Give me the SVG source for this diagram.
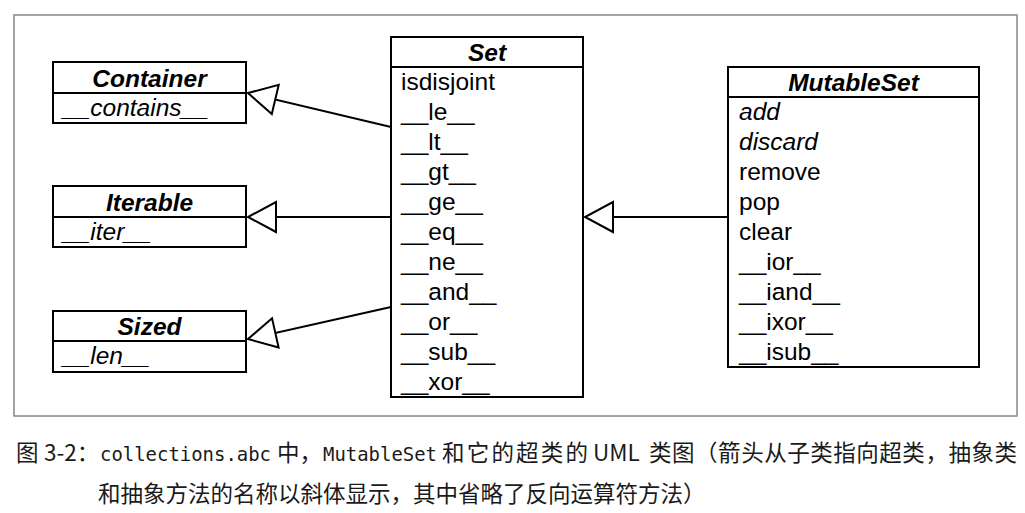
<svg xmlns="http://www.w3.org/2000/svg" width="1025" height="513" viewBox="0 0 1025 513">
<style>
.box{fill:#fff;stroke:#000;stroke-width:2}
.div{stroke:#000;stroke-width:2}
.t{font-family:"Liberation Sans",Arial,sans-serif;font-weight:bold;font-style:italic;font-size:24.5px;text-anchor:middle;fill:#000}
.m{font-family:"Liberation Sans",Arial,sans-serif;font-size:24.5px;fill:#000}
.i{font-style:italic}
.edge{stroke:#000;stroke-width:2;fill:none;marker-end:url(#tri)}
.cap{font-family:"Noto Sans CJK SC","Noto Sans",sans-serif;font-size:22.5px;fill:#1a1a1a}
.mono{font-family:"DejaVu Sans Mono","Liberation Mono",monospace;font-size:20px;fill:#1a1a1a}
</style>
<defs>
<marker id="tri" markerUnits="userSpaceOnUse" markerWidth="30" markerHeight="32" refX="28" refY="15" orient="auto" overflow="visible">
<path d="M0,0 L28,15 L0,30 Z" fill="#fff" stroke="#000" stroke-width="2"/>
</marker>
</defs>
<rect x="14" y="15" width="1003" height="401" fill="#fff" stroke="#888" stroke-width="1.5"/>
<g id="connectors">
<path class="edge" d="M391,127 L248,93"/>
<path class="edge" d="M391,217 L248,217"/>
<path class="edge" d="M391,307 L248,339"/>
<path class="edge" d="M728,217 L585,217"/>
</g>
<g id="Container">
<rect class="box" x="53" y="62" width="193" height="61"/>
<line class="div" x1="53" y1="93" x2="246" y2="93"/>
<text class="t" x="149.5" y="87">Container</text>
<text class="m i" x="63" y="116">__contains__</text>
</g>
<g id="Iterable">
<rect class="box" x="53" y="186" width="193" height="61"/>
<line class="div" x1="53" y1="217" x2="246" y2="217"/>
<text class="t" x="149.5" y="211">Iterable</text>
<text class="m i" x="63" y="240">__iter__</text>
</g>
<g id="Sized">
<rect class="box" x="53" y="311" width="193" height="61"/>
<line class="div" x1="53" y1="341" x2="246" y2="341"/>
<text class="t" x="149.5" y="335">Sized</text>
<text class="m i" x="63" y="364">__len__</text>
</g>
<g id="Set">
<rect class="box" x="391" y="37" width="192" height="360"/>
<line class="div" x1="391" y1="67" x2="583" y2="67"/>
<text class="t" x="487" y="61">Set</text>
<text class="m" x="401" y="90">isdisjoint</text>
<text class="m" x="401" y="120">__le__</text>
<text class="m" x="401" y="150">__lt__</text>
<text class="m" x="401" y="180">__gt__</text>
<text class="m" x="401" y="210">__ge__</text>
<text class="m" x="401" y="240">__eq__</text>
<text class="m" x="401" y="270">__ne__</text>
<text class="m" x="401" y="300">__and__</text>
<text class="m" x="401" y="330">__or__</text>
<text class="m" x="401" y="360">__sub__</text>
<text class="m" x="401" y="389.5">__xor__</text>
</g>
<g id="MutableSet">
<rect class="box" x="728" y="67" width="251" height="300"/>
<line class="div" x1="728" y1="97" x2="979" y2="97"/>
<text class="t" x="853.5" y="91">MutableSet</text>
<text class="m i" x="739" y="120">add</text>
<text class="m i" x="739" y="150">discard</text>
<text class="m" x="739" y="180">remove</text>
<text class="m" x="739" y="210">pop</text>
<text class="m" x="739" y="240">clear</text>
<text class="m" x="739" y="270">__ior__</text>
<text class="m" x="739" y="300">__iand__</text>
<text class="m" x="739" y="330">__ixor__</text>
<text class="m" x="739" y="359.5">__isub__</text>
</g>
<g id="caption">
<text class="cap" x="16" y="461">图</text>
<text class="cap" x="44" y="461">3-2：</text>
<text class="mono" x="100" y="461" textLength="171" lengthAdjust="spacingAndGlyphs">collections.abc</text>
<text class="cap" x="277" y="461">中，</text>
<text class="mono" x="323" y="461" textLength="114" lengthAdjust="spacingAndGlyphs">MutableSet</text>
<text class="cap" x="442" y="461" textLength="146" lengthAdjust="spacing">和它的超类的</text>
<text class="cap" x="593" y="461">UML</text>
<text class="cap" x="649" y="461" textLength="368" lengthAdjust="spacing">类图（箭头从子类指向超类，抽象类</text>
<text class="cap" x="98" y="502">和抽象方法的名称以斜体显示，其中省略了反向运算符方法）</text>
</g>
</svg>
